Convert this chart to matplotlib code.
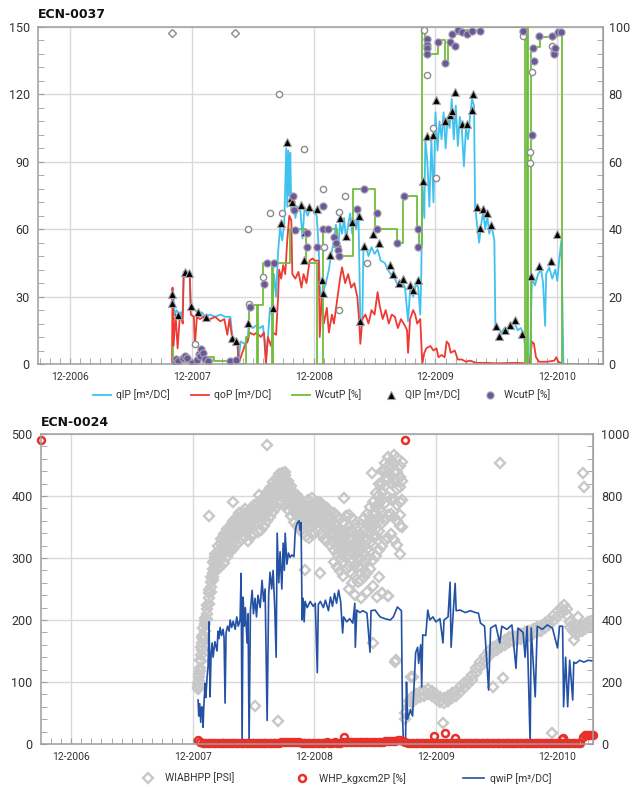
import matplotlib
matplotlib.use('Agg')
import matplotlib.pyplot as plt
import numpy as np
from matplotlib.ticker import MultipleLocator, FixedLocator

plt.rcParams['font.family'] = ['Roboto', 'DejaVu Sans']

# x is months counted from the 12-2006 grid line
year_ticks = [0, 12, 24, 36, 48]
year_labels = ['12-2006', '12-2007', '12-2008', '12-2009', '12-2010']

# ---------------- ECN-0037 ----------------
# qlP line [m3/DC]
ql = [(10.05, 33), (10.1, 27), (10.2, 30), (10.3, 22), (10.5, 24), (10.7, 22), (10.9, 23), (11.0, 20),
      (11.1, 24), (11.2, 41), (11.4, 40), (11.6, 41), (11.8, 40), (11.9, 26), (12.1, 25), (12.3, 24),
      (12.6, 23), (12.8, 22), (13.0, 23), (13.3, 21), (13.8, 22), (14.3, 21), (14.8, 22), (15.3, 21),
      (15.8, 21), (16.0, 12), (16.3, 11), (16.5, 10), (16.6, 0.5), (16.8, 10), (17.2, 9), (17.5, 11),
      (17.6, 17), (18.0, 16), (18.3, 17), (18.7, 16), (19.0, 17), (19.2, 10), (19.3, 3), (19.5, 12),
      (19.7, 25), (19.9, 22), (20.1, 40), (20.3, 30), (20.5, 50), (20.7, 61), (20.9, 55), (21.1, 62),
      (21.3, 96), (21.4, 70), (21.5, 95), (21.6, 75), (21.7, 94), (21.8, 68), (22.0, 72), (22.2, 65),
      (22.4, 70), (22.7, 68), (22.9, 56), (23.1, 70), (23.4, 66), (23.7, 69), (24.0, 68), (24.3, 66),
      (24.5, 52), (24.6, 35), (24.8, 28), (25.0, 33), (25.2, 36), (25.5, 42), (25.7, 48), (26.0, 55),
      (26.2, 62), (26.4, 50), (26.6, 63), (26.8, 58), (27.0, 65), (27.2, 55), (27.4, 62), (27.6, 67),
      (27.8, 58), (28.0, 64), (28.2, 60), (28.4, 70), (28.6, 19), (28.8, 20), (28.9, 50), (29.1, 53),
      (29.4, 48), (29.7, 52), (30.0, 49), (30.3, 51), (30.6, 46), (31.0, 45), (31.3, 42), (31.6, 40),
      (32.0, 38), (32.3, 35), (32.6, 37), (33.0, 34), (33.3, 19), (33.5, 33), (33.8, 30), (34.1, 36),
      (34.3, 34), (34.5, 22), (34.6, 40), (34.7, 80), (34.9, 65), (35.0, 100), (35.2, 90), (35.4, 70),
      (35.6, 100), (35.8, 72), (36.0, 112), (36.2, 95), (36.4, 108), (36.6, 100), (36.8, 112), (37.0, 96),
      (37.2, 110), (37.4, 105), (37.6, 118), (37.8, 100), (38.0, 115), (38.2, 97), (38.4, 110), (38.6, 104),
      (38.8, 88), (39.0, 105), (39.2, 100), (39.4, 110), (39.6, 118), (39.8, 115), (39.9, 70), (40.1, 62),
      (40.3, 54), (40.5, 62), (40.7, 68), (40.9, 60), (41.1, 66), (41.3, 58), (41.5, 62), (41.8, 55),
      (41.9, 17), (42.2, 16), (42.5, 14), (42.8, 16), (43.1, 15), (43.4, 17), (43.8, 18), (44.1, 15),
      (44.4, 16), (44.7, 13), (45.0, 0.5), (45.3, 0), (45.5, 38), (45.8, 35), (46.1, 40), (46.4, 42),
      (46.6, 36), (46.8, 17), (46.9, 40), (47.2, 43), (47.5, 38), (47.8, 42), (48.0, 37), (48.2, 47),
      (48.4, 55), (48.6, 0)]

# qoP line [m3/DC]
qo = [(10.05, 0), (10.1, 34), (10.2, 8), (10.4, 22), (10.6, 7), (10.8, 20), (11.0, 21), (11.1, 18),
      (11.2, 40), (11.5, 39), (11.8, 40), (11.9, 22), (12.2, 21), (12.3, 8), (12.5, 21), (12.8, 20),
      (13.2, 21), (13.8, 20), (14.3, 21), (14.8, 19), (15.2, 20), (15.5, 13), (15.7, 20), (16.0, 11),
      (16.3, 10), (16.5, 9), (16.6, 0), (16.9, 4), (17.2, 8), (17.5, 10), (17.7, 14), (18.1, 13),
      (18.4, 14), (18.8, 12), (19.1, 14), (19.3, 0), (19.5, 12), (19.8, 8), (20.0, 14), (20.3, 13),
      (20.5, 30), (20.6, 42), (20.8, 38), (21.0, 44), (21.2, 40), (21.4, 55), (21.6, 66), (21.8, 64),
      (21.9, 40), (22.2, 38), (22.5, 41), (22.8, 34), (23.0, 40), (23.3, 36), (23.6, 46), (23.9, 47),
      (24.1, 46), (24.5, 46), (24.6, 12), (24.8, 30), (25.0, 18), (25.3, 25), (25.5, 14), (25.8, 22),
      (26.0, 18), (26.3, 28), (26.6, 38), (26.8, 43), (27.1, 36), (27.4, 40), (27.7, 34), (28.0, 36),
      (28.3, 30), (28.5, 18), (28.6, 9), (28.8, 20), (29.1, 22), (29.4, 18), (29.7, 24), (30.0, 22),
      (30.3, 32), (30.5, 26), (30.8, 20), (31.1, 24), (31.4, 18), (31.7, 22), (32.0, 21), (32.3, 16),
      (32.6, 20), (33.0, 17), (33.2, 15), (33.3, 5), (33.5, 20), (33.8, 24), (34.0, 22), (34.2, 18),
      (34.5, 20), (34.7, 0), (34.9, 5), (35.1, 7), (35.5, 8), (35.8, 6), (36.1, 7), (36.3, 3),
      (36.6, 4), (36.9, 3), (37.1, 10), (37.3, 9), (37.5, 5), (37.9, 6), (38.2, 2), (38.6, 2),
      (39.0, 1), (39.4, 1.5), (40.0, 0.5), (41.0, 0.5), (42.0, 0.3), (44.0, 0.5), (45.0, 0.3), (45.3, 0),
      (45.5, 10), (45.7, 9), (45.9, 3), (46.2, 1), (47.0, 1), (47.7, 1.5), (47.9, 3), (48.1, 1), (48.6, 0)]

# WcutP step line [%]
wc = [(10.05, 5), (10.1, 0.5), (11.9, 1), (12.7, 4.5), (12.9, 2), (14.2, 1), (16.6, 0), (17.3, 8),
      (17.6, 17.5), (18.4, 0), (18.5, 17.5), (19.0, 30), (19.9, 0), (20.0, 30), (21.7, 40), (23.2, 30),
      (24.3, 0), (24.9, 40), (26.3, 32), (27.9, 52), (30.0, 40), (32.2, 36), (32.8, 50), (34.2, 40),
      (34.4, 35), (34.7, 100), (35.0, 92), (36.2, 96), (36.9, 89.6), (37.2, 96), (37.6, 98), (38.4, 99),
      (40.5, 100), (44.8, 0), (45.0, 100), (45.1, 0), (45.4, 94), (46.3, 97), (48.0, 99), (48.5, 0),
      (52.5, 0)]

# QlP points [m3/DC]
ql_pts = [(10.05, 31), (10.05, 27), (10.64, 22), (11.33, 41), (11.72, 40.5), (11.92, 26), (12.61, 23),
          (13.4, 21), (15.96, 11.6), (16.35, 10.2), (17.54, 18.2), (20.0, 25), (20.79, 62.7), (21.38, 99),
          (21.77, 74), (21.87, 72), (22.76, 70.8), (23.55, 70), (24.33, 69), (23.15, 58.7), (23.05, 46.3),
          (24.83, 37.4), (24.93, 31.6), (25.62, 48.5), (26.3, 54), (26.6, 65), (27.2, 57), (27.8, 63),
          (28.5, 66), (28.6, 19), (29.0, 52.5), (29.8, 58), (30.4, 54), (31.5, 44), (31.8, 40), (32.4, 36),
          (32.8, 38), (33.5, 35), (33.8, 33), (34.3, 37.4), (34.8, 81.4), (35.2, 101.5), (35.8, 102),
          (36.1, 117.5), (36.9, 108), (37.4, 111), (37.6, 112.6), (37.9, 121), (38.6, 107), (39.1, 107),
          (39.6, 113), (39.7, 120), (40.1, 70), (40.7, 69), (40.4, 60.5), (41.1, 67), (41.5, 62),
          (42.0, 17), (42.3, 12.5), (42.8, 15), (43.3, 17.5), (43.8, 19.5), (44.5, 13.3), (45.4, 39),
          (46.2, 43.6), (47.4, 45.8), (48.0, 58)]

# WcutP points [%]
wc_pts = [(10.34, 0.6), (10.44, 1.5), (10.64, 1), (11.13, 1.8), (11.33, 2.5), (11.5, 1.8), (12.0, 0.3),
          (12.5, 1.2), (12.7, 3), (12.8, 2.4), (12.9, 4.5), (13.1, 3.3), (13.3, 1.5), (13.6, 1),
          (15.8, 0.8), (16.35, 1.1), (17.7, 17), (19.1, 23.7), (19.4, 30), (20.1, 30), (22.0, 50),
          (22.1, 45.7), (22.2, 39.8), (23.3, 34.7), (23.3, 39), (24.3, 34.7), (24.9, 47), (24.9, 40),
          (25.4, 40), (26.0, 37.7), (26.2, 35.9), (26.4, 33.8), (26.5, 32), (28.3, 46), (29.0, 52),
          (30.2, 44.8), (30.2, 40), (32.2, 35.9), (32.9, 49.9), (34.3, 40), (34.3, 34.7), (35.2, 96.4),
          (35.2, 94.7), (35.2, 93.8), (35.2, 92), (36.2, 95.6), (36.9, 89.3), (37.4, 95.5), (37.6, 97.9),
          (37.9, 94.4), (38.2, 99), (38.6, 98.5), (39.1, 97.9), (39.6, 98.9), (40.4, 98.7), (44.6, 98.9),
          (45.5, 68), (45.6, 93.8), (45.7, 90), (46.2, 97.3), (47.5, 97.3), (47.7, 92.6), (47.7, 92),
          (47.8, 93.8), (48.1, 98.5), (48.4, 98.5)]

# unlabelled grey points
grey_circles = [(20.6, 120), (23.05, 95.7), (24.9, 78), (19.7, 67.2), (20.9, 67.2), (17.5, 60),
                (19.0, 38.7), (17.6, 26.7), (12.3, 8.9), (25.0, 52), (26.5, 67.6), (26.5, 24),
                (27.1, 74.8), (29.3, 45), (34.9, 148.6), (35.2, 128.6), (35.8, 105), (36.1, 83),
                (44.6, 147.8), (44.6, 146), (45.3, 94.3), (45.3, 89.5), (45.5, 130), (47.5, 141.6)]
grey_diamonds = [(10.05, 147.3), (16.26, 147.3)]

# ---------------- ECN-0024 ----------------
# WIABHPP [PSI] cloud: month and the values seen at that month
wia_months = [12.5, 12.6, 12.7, 12.8, 12.9, 13.0, 13.2, 13.4, 13.6, 13.8, 14.0, 14.2, 14.5, 14.8, 15.1,
              15.4, 15.7, 16.0, 16.3, 16.6, 16.9, 17.2, 17.5, 17.8, 18.1, 18.4, 18.7, 19.0, 19.3, 19.6,
              19.9, 20.2, 20.5, 20.8, 21.1, 21.4, 21.7, 22.0, 22.3, 22.6, 22.9, 23.2, 23.5, 23.8, 24.1,
              24.4, 24.7, 25.0, 25.3, 25.6, 25.9, 26.2, 26.5, 26.8, 27.1, 27.4, 27.7, 28.0, 28.3, 28.6,
              28.9, 29.2, 29.5, 29.8, 30.1, 30.4, 30.7, 31.0, 31.3, 31.6, 31.9, 32.2, 32.5, 32.7]
wia_rows = [[176, 192, 184], [204, 226, 216], [246, 272, 236], [288, 312, 268], [326, 346, 304],
            [352, 374, 338], [386, 408, 364, 398], [420, 450, 404, 436], [470, 498, 452, 486],
            [508, 540, 490, 522], [552, 586, 528, 566, 540], [590, 614, 562, 602, 576],
            [606, 640, 582, 618, 566, 598], [628, 660, 596, 574, 644, 612], [642, 676, 616, 584, 662, 630],
            [660, 694, 624, 604, 680, 648], [676, 704, 648, 618, 690, 632], [686, 720, 656, 630, 702, 672],
            [700, 730, 668, 642, 716, 684], [710, 744, 678, 652, 728, 694], [718, 750, 690, 660, 736, 704],
            [722, 758, 694, 668, 742, 708], [716, 748, 686, 654, 734, 700], [732, 762, 702, 670, 748, 716],
            [736, 772, 708, 678, 754, 722], [746, 776, 714, 684, 760, 728], [752, 788, 720, 690, 770, 736],
            [766, 796, 732, 702, 782, 748], [778, 814, 750, 718, 796, 764], [798, 826, 764, 732, 812, 780],
            [808, 844, 782, 748, 828, 794], [828, 856, 796, 762, 840, 812], [836, 872, 808, 774, 854, 822],
            [848, 874, 816, 782, 862, 832], [832, 868, 804, 770, 848, 818], [820, 848, 788, 754, 836, 802],
            [796, 832, 768, 734, 812, 784], [782, 810, 750, 716, 798, 766], [766, 802, 738, 704, 784, 752],
            [758, 786, 726, 690, 772, 740], [742, 778, 714, 680, 760, 728], [738, 766, 706, 670, 752, 722],
            [730, 768, 702, 666, 748, 716], [742, 770, 710, 676, 792, 724], [746, 782, 718, 682, 764, 732],
            [754, 782, 722, 686, 770, 738], [742, 778, 714, 678, 760, 728], [738, 766, 702, 662, 752, 720],
            [726, 762, 694, 654, 744, 710], [722, 750, 682, 642, 736, 700],
            [710, 746, 674, 626, 588, 692, 650], [702, 734, 662, 612, 572, 684, 636],
            [686, 726, 646, 598, 558, 668, 620], [682, 714, 638, 586, 542, 660, 612],
            [690, 734, 646, 602, 566, 670, 624], [702, 738, 662, 610, 574, 500, 684, 636],
            [686, 730, 642, 594, 550, 666, 618], [674, 710, 634, 578, 538, 480, 652, 606],
            [658, 702, 618, 570, 522, 640, 596], [674, 710, 630, 570, 530, 470, 652, 600],
            [686, 730, 638, 586, 538, 662, 612], [706, 742, 658, 598, 552, 490, 680, 628],
            [722, 766, 678, 622, 566, 700, 648], [746, 782, 702, 642, 592, 510, 724, 672],
            [766, 810, 722, 670, 608, 746, 694], [802, 838, 754, 688, 626, 540, 776, 720],
            [838, 882, 788, 714, 638, 486, 812, 750], [882, 908, 832, 722, 658, 856, 776],
            [898, 926, 854, 738, 666, 476, 876, 796], [892, 914, 842, 742, 678, 866, 790],
            [902, 932, 848, 732, 658, 876, 790], [878, 922, 822, 718, 642, 850, 770],
            [862, 898, 782, 702, 612, 830, 740], [910, 850, 786, 700]]
wia_low_months = [33.0, 33.3, 33.6, 34.0, 34.4, 34.8, 35.2, 35.6, 36.0, 36.4, 36.8, 37.2, 37.6, 38.0,
                  38.4, 38.8, 39.2, 39.6, 40.0, 40.4, 40.8, 41.2, 41.6, 42.0, 42.4, 42.8, 43.2, 43.6,
                  44.0, 44.4, 44.8, 45.2, 45.6, 46.0, 46.4, 46.8, 47.2, 47.6, 48.0, 48.3, 48.6, 48.9,
                  49.2, 49.5, 49.8, 50.1, 50.4, 50.7, 51.0, 51.3]
wia_low_rows = [[100, 80], [140, 124], [152, 136], [160, 144], [168, 152], [172, 156], [176, 160],
                [172, 156], [160, 144], [152, 136], [148, 132], [156, 140], [164, 148], [172, 156],
                [184, 168], [196, 180], [208, 192], [224, 208], [244, 228], [264, 248], [284, 268],
                [300, 284], [312, 296], [320, 304], [328, 312], [336, 320], [344, 328], [348, 332],
                [350, 334], [356, 340], [362, 346], [366, 350], [370, 354], [376, 360], [382, 366],
                [390, 374], [400, 384], [412, 396], [428, 412], [440, 424], [448, 428], [436, 416],
                [392, 376], [380, 364], [372, 356], [376, 360], [380, 364], [388, 372], [392, 376],
                [396, 380]]
wia_out = [(19.35, 964), (13.6, 736), (18.2, 122), (20.4, 74), (18.5, 802), (21.1, 878), (16.0, 780),
           (23.4, 786), (26.9, 794), (29.7, 874), (32.0, 264), (32.1, 270), (29.8, 326), (42.3, 906),
           (50.5, 874), (50.6, 830), (12.6, 180), (47.5, 36), (36.7, 68), (41.6, 184), (42.6, 212),
           (40.4, 248), (33.7, 216), (50.0, 410), (49.6, 336), (33.5, 216), (23.1, 562), (24.6, 552),
           (27.7, 520), (30.2, 474), (30.7, 486), (31.3, 476)]

# WHP_kgxcm2P: dense run near zero, then the few stray readings
whp_m = [12.5, 12.75, 13.0, 13.25, 13.5, 13.75, 14.0, 14.25, 14.5, 14.75, 15.0, 15.25, 15.5, 15.75, 16.0,
         16.25, 16.5, 16.75, 17.0, 17.25, 17.5, 17.75, 18.0, 18.25, 18.5, 18.75, 19.0, 19.25, 19.5, 19.75,
         20.0, 20.25, 20.5, 20.75, 21.0, 21.25, 21.5, 21.75, 22.0, 22.25, 22.5, 22.75, 23.0, 23.25, 23.5,
         23.75, 24.0, 24.25, 24.5, 24.75, 25.0, 25.25, 25.5, 25.75, 26.0, 26.25, 26.5, 26.75, 27.0, 27.25,
         27.5, 27.75, 28.0, 28.25, 28.5, 28.75, 29.0, 29.25, 29.5, 29.75, 30.0, 30.25, 30.5, 30.75, 31.0,
         31.25, 31.5, 31.75, 32.0, 32.25, 32.5, 32.75, 33.0, 33.25, 33.5, 33.75, 34.0, 34.25, 34.5, 34.75,
         35.0, 35.25, 35.5, 35.75, 36.0, 36.25, 36.5, 36.75, 37.0, 37.25, 37.5, 37.75, 38.0, 38.25, 38.5,
         38.75, 39.0, 39.25, 39.5, 39.75, 40.0, 40.25, 40.5, 40.75, 41.0, 41.25, 41.5, 41.75, 42.0, 42.25,
         42.5, 42.75, 43.0, 43.25, 43.5, 43.75, 44.0, 44.25, 44.5, 44.75, 45.0, 45.25, 45.5, 45.75, 46.0,
         46.25, 46.5, 46.75, 47.0, 47.25, 47.5, 47.75, 48.0, 48.25, 48.5, 48.75, 49.0, 49.25, 49.5, 49.75,
         50.0, 50.25]
whp_v = [7, 4, 2,
         1.5, 1, 1.5, 1, 1, 1.5, 1, 1, 1.5, 1, 1, 1.5,
         1, 1.5, 1, 1, 1.5, 1, 1, 1.5, 1, 1, 1.5, 1, 1, 1.5, 1, 1.5,
         2, 2, 2.5, 3, 3.5, 4, 4, 3.5, 3, 2.5, 2, 1.5,
         1.5, 1, 1.5, 1.5, 2, 1.5, 2, 2, 2.5, 2, 2, 2.5, 2, 2, 2.5, 2.5, 3, 2.5, 2.5, 3, 3, 2.5, 3, 3,
         3.5, 3, 3, 3.5,
         3.5, 4, 4, 4.5, 5, 5, 5.5, 5.5, 6, 6, 5, 3,
         1.5, 1, 1, 1.5, 1, 1, 1.5, 1, 1, 1, 1.5, 1, 1, 1.5, 1, 1, 1, 1.5, 1, 1, 1, 1.5, 1, 1,
         1.5, 1, 1, 1, 1.5, 1, 1, 1.5, 1, 1, 1, 1.5, 1, 1, 1, 1.5, 1, 1, 1.5, 1, 1, 1, 1.5, 1,
         1, 1, 1.5, 1, 1, 1.5, 1, 1, 1.5, 1, 2, 1.5, 1, 1, 1.5, 1, 1, 1.5, 1, 1, 2]
whp_odd_m = [-2.96, 32.97, 26.9, 35.8, 36.9, 37.9, 48.5, 48.4, 50.5, 50.7, 50.9, 51.1, 51.3, 51.5]
whp_odd_v = [490, 490, 12, 13, 18, 9, 10, 8, 12, 14, 15, 14, 15, 14]

# qwiP [m3/DC]
qwi = [(12.54, 71), (12.6, 45), (12.7, 65), (12.8, 35), (12.9, 60), (13.0, 50), (13.03, 27), (13.1, 60),
       (13.23, 98), (13.3, 75), (13.43, 108), (13.52, 125), (13.62, 197), (13.72, 76), (13.82, 145),
       (13.92, 163), (14.02, 140), (14.2, 165), (14.41, 150), (14.5, 182), (14.6, 170), (14.71, 188),
       (14.85, 175), (15.0, 185), (15.1, 172), (15.2, 66), (15.3, 180), (15.45, 190), (15.6, 182),
       (15.7, 200), (15.85, 188), (16.0, 198), (16.2, 185), (16.35, 205), (16.5, 190), (16.68, 200),
       (16.78, 275), (16.88, 0), (16.98, 237), (17.1, 190), (17.2, 220), (17.37, 163), (17.47, 210),
       (17.57, 0), (17.7, 215), (17.87, 248), (18.0, 210), (18.16, 235), (18.3, 205), (18.45, 240),
       (18.66, 220), (18.85, 264), (19.0, 230), (19.15, 250), (19.35, 38), (19.5, 240), (19.64, 277),
       (19.8, 250), (19.94, 280), (20.1, 220), (20.24, 140), (20.34, 340), (20.5, 260), (20.63, 310),
       (20.8, 250), (20.93, 324), (21.05, 280), (21.13, 340), (21.3, 290), (21.45, 308), (21.62, 301),
       (21.8, 305), (22.0, 302), (22.11, 340), (22.2, 350), (22.31, 356), (22.5, 360), (22.6, 345),
       (22.7, 357), (22.8, 200), (22.9, 235), (23.0, 197), (23.1, 230), (23.3, 220), (23.6, 230),
       (23.9, 222), (24.1, 227), (24.3, 115), (24.4, 225), (24.6, 230), (24.9, 220), (25.1, 232),
       (25.4, 215), (25.6, 237), (25.8, 222), (26.0, 243), (26.2, 227), (26.4, 248), (26.6, 230),
       (26.8, 179), (26.9, 205), (27.2, 197), (27.5, 202), (27.8, 195), (28.0, 227), (28.05, 156),
       (28.2, 216), (28.5, 212), (28.8, 215), (29.2, 211), (29.5, 148), (29.6, 215), (30.0, 216),
       (30.5, 205), (31.0, 202), (31.5, 200), (31.8, 205), (32.2, 221), (32.6, 215), (32.7, 50),
       (32.8, 0), (33.0, 0), (33.1, 100), (33.2, 40), (33.5, 55), (33.7, 45), (33.8, 80), (34.0, 147),
       (34.2, 156), (34.3, 130), (34.5, 160), (34.6, 92), (34.7, 176), (35.0, 175), (35.2, 216),
       (35.4, 200), (35.7, 205), (36.0, 197), (36.4, 202), (36.7, 163), (36.8, 200), (37.2, 205),
       (37.4, 261), (37.5, 156), (37.7, 210), (37.9, 259), (38.0, 215), (38.4, 216), (38.9, 212),
       (39.4, 215), (39.9, 212), (40.2, 211), (40.4, 195), (40.8, 190), (41.2, 87), (41.4, 187),
       (41.9, 192), (42.3, 163), (42.5, 190), (43.0, 185), (43.5, 192), (43.9, 122), (44.1, 187),
       (44.6, 180), (44.8, 140), (45.0, 190), (45.3, 0), (45.4, 187), (45.8, 76), (46.0, 190),
       (46.5, 185), (47.0, 192), (47.5, 187), (48.0, 155), (48.2, 190), (48.5, 190), (48.6, 60),
       (48.8, 140), (49.0, 60), (49.2, 135), (49.5, 71), (49.6, 132), (49.8, 130), (50.2, 135),
       (50.6, 132), (51.0, 135), (51.5, 134)]

# colours
c_ql = '#3fc2f0'
c_qo = '#ee3a32'
c_wc = '#71bd3e'
c_purple = '#6c56a0'
c_grid = '#d9d9d9'
c_spine = '#9e9e9e'
c_text = '#333333'
c_wia = '#c8c8c8'
c_whp = '#e8302a'
c_qwi = '#2351a4'


def style_axes(ax, xmin, xmax):
    ax.set_xlim(xmin, xmax)
    ax.xaxis.set_major_locator(FixedLocator(year_ticks))
    ax.set_xticklabels(year_labels)
    ax.xaxis.set_minor_locator(MultipleLocator(1))
    ax.grid(True, which='major', color=c_grid, lw=1)
    ax.set_axisbelow(True)
    for s in ax.spines.values():
        s.set_color(c_spine)
        s.set_linewidth(1.1)
    ax.tick_params(axis='x', which='both', direction='in', length=4.5, color=c_spine,
                   labelsize=7.5, labelcolor=c_text, pad=6)
    ax.tick_params(axis='y', which='both', direction='in', length=4.5, color=c_spine,
                   labelsize=9, labelcolor=c_text, pad=6)


fig = plt.figure(figsize=(6.32, 7.87), dpi=100)

# ---- top chart ----
ax1 = fig.add_axes([38 / 632, 1 - 364 / 787, (603 - 38) / 632, (364 - 27) / 787])
style_axes(ax1, -3.15, 52.5)
ax1.set_ylim(0, 150)
ax1.yaxis.set_major_locator(MultipleLocator(30))
ax1.yaxis.set_minor_locator(MultipleLocator(6))

m, v = zip(*ql)
l_ql, = ax1.plot(m, v, color=c_ql, lw=1.3, label='qlP [m³/DC]')
m, v = zip(*qo)
l_qo, = ax1.plot(m, v, color=c_qo, lw=1.3, label='qoP [m³/DC]')
m, v = zip(*wc)
l_wc, = ax1.plot(m, np.array(v) * 1.5, color=c_wc, lw=1.3, drawstyle='steps-post', label='WcutP [%]')
m, v = zip(*grey_circles)
ax1.plot(m, v, 'o', ms=4.5, mfc='white', mec='#8c8c8c', mew=1.0, ls='none')
m, v = zip(*grey_diamonds)
ax1.plot(m, v, 'D', ms=4.5, mfc='white', mec='#8c8c8c', mew=1.0, ls='none')
m, v = zip(*ql_pts)
p_ql, = ax1.plot(m, v, '^', ms=6, mfc='black', mec='#a0a0a0', mew=0.8, ls='none', label='QlP [m³/DC]')
m, v = zip(*wc_pts)
p_wc, = ax1.plot(m, np.array(v) * 1.5, 'o', ms=5.2, mfc=c_purple, mec='#a8a8a8', mew=0.8, ls='none',
                 label='WcutP [%]')

sec1 = ax1.secondary_yaxis('right', functions=(lambda y: y / 1.5, lambda y: y * 1.5))
sec1.set_yticks([0, 20, 40, 60, 80, 100])
sec1.yaxis.set_minor_locator(MultipleLocator(4))
sec1.spines['right'].set_color(c_spine)
sec1.tick_params(which='both', direction='in', length=4.5, color=c_spine, labelsize=9,
                 labelcolor=c_text, pad=4)

fig.text(38 / 632, 1 - 15 / 787, 'ECN-0037', fontsize=9, weight='bold', family='DejaVu Sans',
         va='center', ha='left', color='#111111')
ax1.legend(handles=[l_ql, l_qo, l_wc, p_ql, p_wc], loc='center', bbox_to_anchor=(0.502, -0.092), ncol=5,
           frameon=False, fontsize=7.5, handlelength=1.7, handletextpad=0.5, columnspacing=2.0,
           labelcolor=c_text)

# ---- bottom chart ----
ax3 = fig.add_axes([41 / 632, 1 - 744 / 787, (593 - 41) / 632, (744 - 434) / 787])
style_axes(ax3, -2.96, 51.5)
ax3.set_ylim(0, 500)
ax3.yaxis.set_major_locator(MultipleLocator(100))
ax3.yaxis.set_minor_locator(MultipleLocator(20))

wm = np.concatenate([np.repeat(wia_months, [len(r) for r in wia_rows]),
                     np.repeat(wia_low_months, [len(r) for r in wia_low_rows]),
                     [p[0] for p in wia_out]])
wv = np.concatenate([np.concatenate(wia_rows), np.concatenate(wia_low_rows), [p[1] for p in wia_out]])
p_wia, = ax3.plot(wm, wv / 2.0, 'D', ms=5.3, mfc='none', mec=c_wia, mew=1.7, ls='none',
                  label='WIABHPP [PSI]')
m, v = zip(*qwi)
l_qwi, = ax3.plot(m, v, color=c_qwi, lw=1.2, label='qwiP [m³/DC]')
p_whp, = ax3.plot(whp_m, whp_v, 'o', ms=5, mfc='none', mec=c_whp, mew=1.8, ls='none',
                  label='WHP_kgxcm2P [%]', clip_on=False)
ax3.plot(whp_odd_m, whp_odd_v, 'o', ms=5, mfc='none', mec=c_whp, mew=1.8, ls='none', clip_on=False)

sec3 = ax3.secondary_yaxis('right', functions=(lambda y: y * 2.0, lambda y: y / 2.0))
sec3.set_yticks([0, 200, 400, 600, 800, 1000])
sec3.yaxis.set_minor_locator(MultipleLocator(40))
sec3.spines['right'].set_color(c_spine)
sec3.tick_params(which='both', direction='in', length=4.5, color=c_spine, labelsize=9,
                 labelcolor=c_text, pad=6)

fig.text(41 / 632, 1 - 423 / 787, 'ECN-0024', fontsize=9, weight='bold', family='DejaVu Sans',
         va='center', ha='left', color='#111111')
ax3.legend(handles=[p_wia, p_whp, l_qwi], loc='center', bbox_to_anchor=(0.55, -0.11), ncol=3,
           frameon=False, fontsize=7.5, handlelength=2.0, handletextpad=0.6, columnspacing=5.5,
           labelcolor=c_text)

fig.savefig('out.png', dpi=100)
